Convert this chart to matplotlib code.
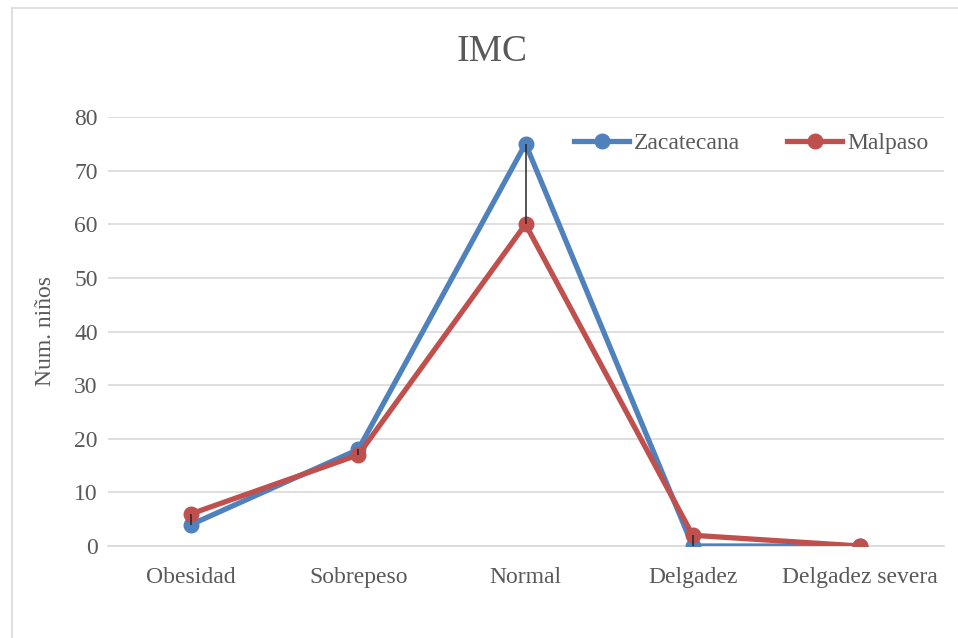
import matplotlib
matplotlib.use("Agg")
import matplotlib.pyplot as plt
from matplotlib.lines import Line2D

categories = ["Obesidad", "Sobrepeso", "Normal", "Delgadez", "Delgadez severa"]
zacatecana = [4, 18, 75, 0, 0]
malpaso = [6, 17, 60, 2, 0]
yticks = [0, 10, 20, 30, 40, 50, 60, 70, 80]

plt.rcParams['font.family'] = ['Liberation Serif', 'DejaVu Serif']
text_col = '#595959'
blue = '#4F81BD'
red = '#C0504D'

W, H = 958, 638
fig = plt.figure(figsize=(W / 100, H / 100), dpi=100)

# chart border (left and top visible)
fig.add_artist(Line2D([12 / W, 12 / W], [0, 1 - 8 / H], transform=fig.transFigure,
                      color='#D9D9D9', lw=1.2))
fig.add_artist(Line2D([12 / W, 1], [1 - 8 / H, 1 - 8 / H], transform=fig.transFigure,
                      color='#D9D9D9', lw=1.2))

left, right = 107.5 / W, 943.5 / W
bottom, top = 1 - 546 / H, 1 - 117 / H
ax = fig.add_axes([left, bottom, right - left, top - bottom])

x = list(range(len(categories)))

# high-low lines
for i in x:
    lo, hi = min(zacatecana[i], malpaso[i]), max(zacatecana[i], malpaso[i])
    if hi > lo:
        ax.vlines(i, lo, hi, color='#262626', lw=1.1, zorder=5)

ax.plot(x, zacatecana, color=blue, lw=3.8, marker='o', ms=10.5, label='Zacatecana', zorder=3)
ax.plot(x, malpaso, color=red, lw=3.8, marker='o', ms=10.5, label='Malpaso', zorder=4)

ax.set_xlim(-0.5, len(categories) - 0.5)
ax.set_ylim(0, 80)
ax.set_yticks(yticks)
ax.set_xticks(x)
ax.set_xticklabels(categories)
ax.grid(axis='y', color='#D9D9D9', lw=1.2)
ax.set_axisbelow(True)
for s in ['top', 'right', 'left']:
    ax.spines[s].set_visible(False)
ax.spines['bottom'].set_color('#D9D9D9')
ax.spines['bottom'].set_linewidth(1.2)
ax.tick_params(axis='both', length=0, labelsize=17, colors=text_col)
ax.tick_params(axis='y', pad=7)
ax.tick_params(axis='x', pad=15)
ax.set_ylabel('Num. niños', fontsize=17, color=text_col, labelpad=13)

fig.text(492 / W, 1 - 52 / H, 'IMC', ha='center', va='center', fontsize=27, color=text_col)

leg = ax.legend(loc='upper right', bbox_to_anchor=(1.0, 1.0), ncol=2, frameon=False,
                fontsize=17, handlelength=2.33, handletextpad=0.2, columnspacing=2.0,
                borderaxespad=0.25)
for t in leg.get_texts():
    t.set_color(text_col)

fig.savefig('out.png', dpi=100)
